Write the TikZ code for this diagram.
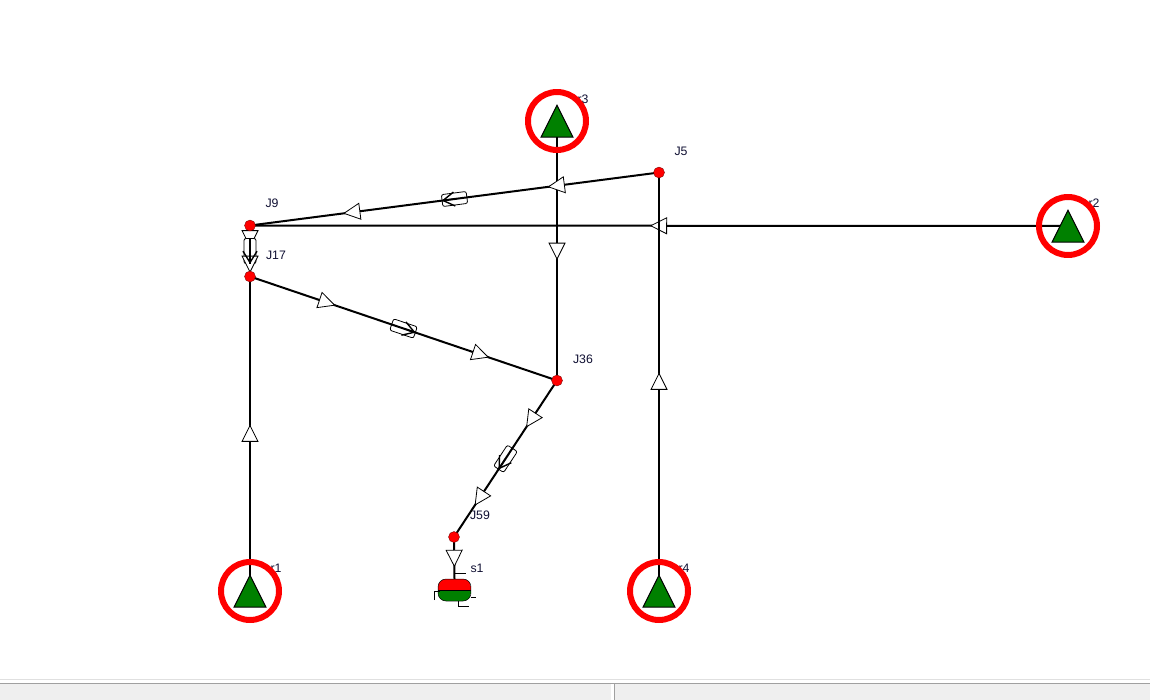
\documentclass[tikz,border=0pt]{standalone}
\usepackage{xcolor}
\usepackage{fontspec}
\setmainfont{Liberation Sans}
\usetikzlibrary{shapes.geometric,arrows.meta,calc}
\definecolor{tankgreen}{RGB}{0,128,0}
\definecolor{tagblue}{RGB}{15,15,50}
\definecolor{barbg}{RGB}{239,239,239}
\definecolor{barline}{RGB}{160,160,160}
\newdimen\pxu
\pxu=0.569pt
\tikzset{
  pipe/.style={line width=2\pxu, black},
  junction/.style={circle, fill=red, draw=black!60!red, line width=0.3\pxu, minimum size=11\pxu, inner sep=0pt},
  reservoir/.style={isosceles triangle, shape border rotate=90, isosceles triangle apex angle=53, isosceles triangle stretches, minimum width=32\pxu, minimum height=32\pxu, inner sep=0pt, fill=tankgreen, draw=black, line width=1\pxu, yshift=-6.3\pxu},
  ring/.style={circle, draw=red, line width=6\pxu, minimum size=58\pxu, inner sep=0pt},
  flowtip/.style={isosceles triangle, allow upside down, sloped, isosceles triangle apex angle=54, isosceles triangle stretches, minimum width=16\pxu, minimum height=16\pxu, inner sep=0pt, fill=white, draw=black, line width=0.8\pxu, xshift=-2.7\pxu},
  valvebox/.style={rectangle, allow upside down, sloped, rounded corners=2\pxu, minimum width=25\pxu, minimum height=12\pxu, inner sep=0pt, draw=black, line width=0.8\pxu, fill=white},
  valvetip/.style={-{Straight Barb[length=6.5pt,width=8pt]}, line width=1.4\pxu},
  tag/.style={font=\fontsize{7}{8}\selectfont, text=tagblue, inner sep=0pt},
  thin tick/.style={line width=1\pxu}
}
\begin{document}
\begin{tikzpicture}[x=0.02cm, y=-0.02cm]
    \useasboundingbox (0,0) rectangle (1150,700);
    % status bar
    \fill[barbg] (0,683) rectangle (1150,700);
    \draw[barline, line width=1\pxu] (0,683) -- (1150,683);
    \draw[black!12, line width=1\pxu] (0,679.5) -- (1150,679.5);
    \fill[white] (611,683.5) rectangle (613.5,700);
    \draw[barline, line width=1\pxu] (614,683) -- (614,700);

    % labels go first, the rings cover part of them
    \node (tagr1) [tag] at (276,568) {r1};
    \node (tagr2) [tag] at (1094,203) {r2};
    \node (tagr3) [tag] at (583,99) {r3};
    \node (tagr4) [tag] at (684,568) {r4};
    \node (tagJ5) [tag] at (681,151) {J5};
    \node (tagJ9) [tag] at (272,203) {J9};
    \node (tagJ17) [tag] at (276,255) {J17};
    \node (tagJ36) [tag] at (583,359) {J36};
    \node (tagJ59) [tag] at (480,515) {J59};
    \node (tags1) [tag] at (477,568) {s1};

    \coordinate (r1) at (250,591);
    \coordinate (r2) at (1068,226);
    \coordinate (r3) at (557,121);
    \coordinate (r4) at (659,591);
    \coordinate (J5) at (659,172.5);
    \coordinate (J9) at (250,225.5);
    \coordinate (J17) at (250,276.5);
    \coordinate (J36) at (557,380.5);
    \coordinate (J59) at (454,537);
    \node (s1) [rectangle, rounded corners=8\pxu, minimum width=33\pxu, minimum height=22\pxu, inner sep=0pt, draw=black, line width=0.5\pxu,
        path picture={\fill[red, sharp corners] (path picture bounding box.north west) rectangle (path picture bounding box.east);
            \fill[tankgreen, sharp corners] (path picture bounding box.west) rectangle (path picture bounding box.south east);
            \draw[line width=0.6\pxu] (path picture bounding box.west) -- (path picture bounding box.east);}] at (454.5,590) {};

    % pipes
    \draw[pipe] (r1) -- node (a1) [pos=.5, flowtip] {} (J17);
    \draw[pipe] (r2) -- node (a2) [pos=.5, flowtip] {} (J9);
    \draw[pipe] (r3) -- node (a3) [pos=.5, flowtip] {} (J36);
    \draw[pipe] (r4) -- node (a4) [pos=.5, flowtip] {} (J5);
    \draw[pipe] (J59) -- node (a5) [pos=.5, flowtip] {} (s1.north);
    \draw[pipe] (J5) -- node (a6) [pos=.25, flowtip] {} node (v1) [pos=.5, valvebox] {} node (a7) [pos=.75, flowtip] {} (J9);
    \draw[pipe] (J9) -- node (a8) [pos=.25, flowtip] {} node (v2) [pos=.5, valvebox] {} node (a9) [pos=.75, flowtip] {} (J17);
    \draw[pipe] (J17) -- node (a10) [pos=.25, flowtip] {} node (v3) [pos=.5, valvebox] {} node (a11) [pos=.75, flowtip] {} (J36);
    \draw[pipe] (J36) -- node (a12) [pos=.25, flowtip] {} node (v4) [pos=.5, valvebox] {} node (a13) [pos=.75, flowtip] {} (J59);

    \draw[pipe] (v1.west) -- (v1.east);
    \draw[pipe] (v2.west) -- (v2.east);
    \draw[pipe] (v3.west) -- (v3.east);
    \draw[pipe] (v4.west) -- (v4.east);
    \draw[valvetip] (v1.center) -- (v1.east);
    \draw[valvetip] (v2.center) -- (v2.east);
    \draw[valvetip] (v3.center) -- (v3.east);
    \draw[valvetip] (v4.center) -- (v4.east);

    % junctions
    \node (nJ5) [junction] at (J5) {};
    \node (nJ9) [junction] at (J9) {};
    \node (nJ17) [junction] at (J17) {};
    \node (nJ36) [junction] at (J36) {};
    \node (nJ59) [junction] at (J59) {};

    % reservoirs
    \node (t1) [reservoir] at (r1) {};
    \node (t2) [reservoir] at (r2) {};
    \node (t3) [reservoir] at (r3) {};
    \node (t4) [reservoir] at (r4) {};
    \node (c1) [ring] at (r1) {};
    \node (c2) [ring] at (r2) {};
    \node (c3) [ring] at (r3) {};
    \node (c4) [ring] at (r4) {};

    % tank ticks
    \draw[thin tick] ([shift={(-1,-17)}]s1.center) -- ++(12,0);
    \draw[thin tick] ([shift={(-20,10)}]s1.center) -- ++(0,-9) -- ++(5,0);
    \draw[thin tick] ([shift={(16,7)}]s1.center) -- ++(5,0);
    \draw[thin tick] ([shift={(4,11)}]s1.center) -- ++(0,5) -- ++(10,0);
\end{tikzpicture}
\end{document}
